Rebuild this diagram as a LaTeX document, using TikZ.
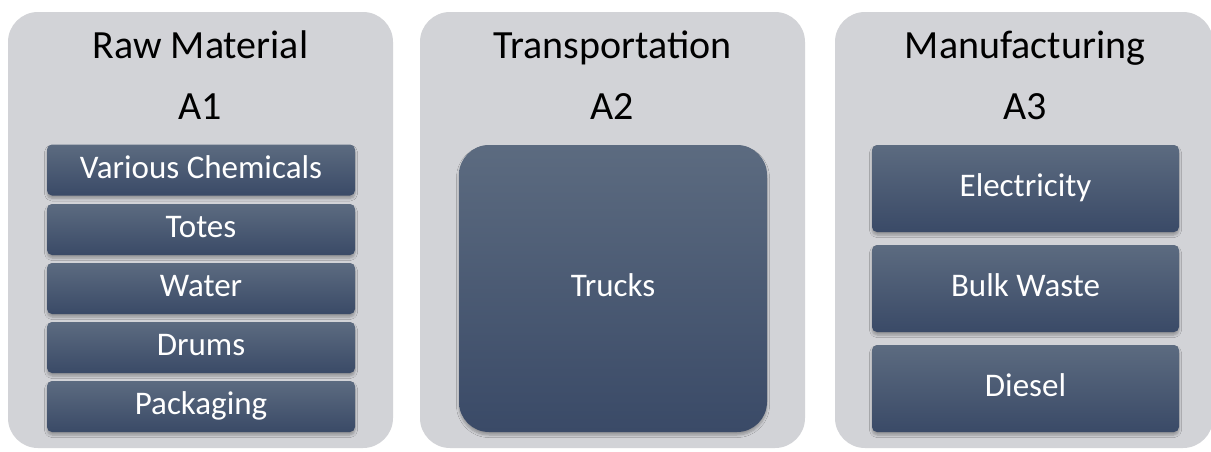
\documentclass[tikz,border=0pt]{standalone}
\usepackage{fontspec}
\setmainfont{Carlito}
\usetikzlibrary{shadows.blur}
\definecolor{panelgray}{HTML}{D2D3D7}
\definecolor{boxtop}{HTML}{5C6B80}
\definecolor{boxbot}{HTML}{3A4A67}
\begin{document}
\begin{tikzpicture}[x=1pt,y=-1pt,
  panelbox/.style={fill=panelgray, rounded corners=30pt, inner sep=0pt, minimum width=385pt, minimum height=436pt},
  titletext/.style={font=\fontsize{40}{46}\selectfont, text=black, inner sep=0pt, anchor=base},
  itembox/.style={rounded corners=5pt, top color=boxtop, bottom color=boxbot, text=white,
    font=\fontsize{33}{38}\selectfont, inner sep=0pt, text height=24pt, text depth=8pt,
    blur shadow={shadow xshift=0pt, shadow yshift=-3pt, shadow blur steps=6, shadow opacity=30, shadow blur radius=2.5pt}},
  rowA/.style={itembox, minimum width=308pt, minimum height=51pt},
  rowC/.style={itembox, minimum width=307pt, minimum height=87pt},
  bigbox/.style={itembox, rounded corners=30pt, minimum width=308pt, minimum height=287pt}
]
\useasboundingbox (0,0) rectangle (1211,451);
\fill[white] (0,0) rectangle (1211,451);
% panels
\node[panelbox] (p1) at (200.5,230) {};
\node[panelbox] (p2) at (612.5,230) {};
\node[panelbox, minimum width=378pt] (p3) at (1024,230) {};
% titles
\node[titletext] (t1) at (200.5,58) {Raw Material};
\node[titletext] (a1) at (200.5,119) {A1};
\node[titletext] (t2) at (612.5,58) {Transportation};
\node[titletext] (a2) at (612.5,119) {A2};
\node[titletext] (t3) at (1025,58) {Manufacturing};
\node[titletext] (a3) at (1025,119) {A3};
% panel 1 items
\node[rowA] (vc) at (201,170) {Various Chemicals};
\node[rowA] (to) at (201,229.5) {Totes};
\node[rowA] (wa) at (201,288.5) {Water};
\node[rowA] (dr) at (201,347.5) {Drums};
\node[rowA] (pk) at (201,406.5) {Packaging};
% panel 2
\node[bigbox] (tr) at (613,288.5) {Trucks};
% panel 3 items
\node[rowC] (el) at (1025.5,188.5) {Electricity};
\node[rowC] (bw) at (1025.5,288.5) {Bulk Waste};
\node[rowC] (di) at (1025.5,388.5) {Diesel};
\end{tikzpicture}
\end{document}
